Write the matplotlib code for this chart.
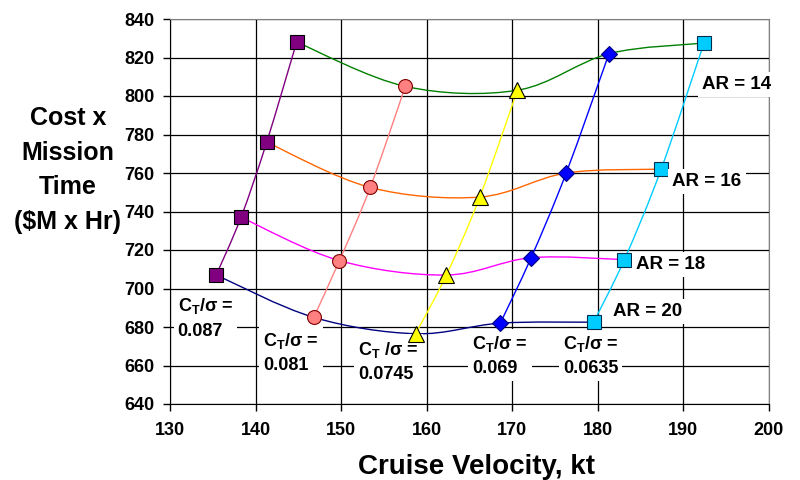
import numpy as np
import matplotlib
matplotlib.use("Agg")
from matplotlib import pyplot as plt
from matplotlib.path import Path
from matplotlib.patches import PathPatch

plt.rcParams['font.family'] = ['Liberation Sans', 'DejaVu Sans']
plt.rcParams['font.weight'] = 'bold'
plt.rcParams['mathtext.fontset'] = 'custom'
plt.rcParams['mathtext.rm'] = 'Liberation Sans:bold'
plt.rcParams['mathtext.bf'] = 'Liberation Sans:bold'

# one series per thrust coefficient, points ordered AR = 20, 18, 16, 14
ct_labels = ["C$_\\mathrm{T}$/σ =\n0.087", "C$_\\mathrm{T}$/σ =\n0.081",
             "C$_\\mathrm{T}$ /σ =\n0.0745", "C$_\\mathrm{T}$/σ =\n0.069",
             "C$_\\mathrm{T}$/σ =\n0.0635"]
vel_087 = [135.4, 138.3, 141.3, 144.8]
cost_087 = [707, 737, 776, 828]
vel_081 = [146.8, 149.8, 153.4, 157.5]
cost_081 = [685, 714.5, 752.5, 805]
vel_0745 = [158.7, 162.3, 166.2, 170.6]
cost_0745 = [676.5, 707, 747.5, 803]
vel_069 = [168.6, 172.2, 176.3, 181.3]
cost_069 = [682, 716, 760, 822]
vel_0635 = [179.5, 183.1, 187.4, 192.4]
cost_0635 = [682.5, 715, 762, 827.5]

ar_labels = ["AR = 20", "AR = 18", "AR = 16", "AR = 14"]

velocities = [vel_087, vel_081, vel_0745, vel_069, vel_0635]
costs = [cost_087, cost_081, cost_0745, cost_069, cost_0635]

ct_colors = ["#800080", "#FF8080", "#FFFF00", "#0000FF", "#00CCFF"]
ct_edges = ["#000000", "#800000", "#000000", "#000080", "#003050"]
ct_markers = ["s", "o", "^", "D", "s"]
ct_sizes = [10, 10, 11, 8, 10]
ar_colors = ["#000080", "#FF00FF", "#FF6600", "#008000"]


def smooth_path(xs, ys):
    # excel style smoothed line: cubic bezier through every point
    p = np.column_stack([xs, ys]).astype(float)
    n = len(p)
    verts = [p[0]]
    codes = [Path.MOVETO]
    for i in range(n - 1):
        p0 = p[i - 1] if i > 0 else p[i]
        p3 = p[i + 2] if i + 2 < n else p[i + 1]
        c1 = p[i] + (p[i + 1] - p0) / 6.0
        c2 = p[i + 1] - (p3 - p[i]) / 6.0
        verts += [c1, c2, p[i + 1]]
        codes += [Path.CURVE4] * 3
    return Path(verts, codes)


fig = plt.figure(figsize=(8, 4.8), dpi=100)
ax = fig.add_axes([170 / 800, 1 - 404 / 480, 599 / 800, 385 / 480])

# constant aspect ratio curves across the thrust series
for j in range(4):
    xs = [v[j] for v in velocities]
    ys = [c[j] for c in costs]
    ax.add_patch(PathPatch(smooth_path(xs, ys), fill=False,
                           edgecolor=ar_colors[j], lw=1.0, zorder=3))

for k in range(5):
    ax.add_patch(PathPatch(smooth_path(velocities[k], costs[k]), fill=False,
                           edgecolor=ct_colors[k], lw=1.0, zorder=3))
    ax.plot(velocities[k], costs[k], linestyle="none", marker=ct_markers[k],
            markersize=ct_sizes[k], markerfacecolor=ct_colors[k],
            markeredgecolor=ct_edges[k], markeredgewidth=0.8, zorder=5)

ax.set_xlim(130, 200)
ax.set_ylim(640, 840)
ax.set_xticks(np.arange(130, 201, 10))
ax.set_yticks(np.arange(640, 841, 20))
ax.grid(True, color="black", lw=0.9)
ax.set_axisbelow(True)
ax.tick_params(direction="out", length=5, width=1, labelsize=13)
ax.tick_params(axis="x", pad=8)
ax.tick_params(axis="y", pad=6)
for lab in ax.get_xticklabels() + ax.get_yticklabels():
    lab.set_fontweight("bold")
ax.spines["top"].set_color("#808080")
ax.spines["right"].set_color("#808080")

box = dict(facecolor="white", edgecolor="none", pad=3)
ct_pos = [(130.9, 696), (140.9, 678), (152.0, 673.5), (165.3, 676.5), (175.9, 676.5)]
for (x, y), txt in zip(ct_pos, ct_labels):
    ax.text(x, y, txt, fontsize=13, fontweight="bold", va="top", ha="left",
            linespacing=1.5, bbox=box, zorder=4)

ar_pos = [(181.8, 692.5), (184.5, 717), (188.7, 760), (192.2, 810.5)]
for (x, y), txt in zip(ar_pos, ar_labels):
    ax.text(x, y, txt, fontsize=13.5, fontweight="bold", va="top", ha="left",
            bbox=box, zorder=6, clip_on=False)

fig.text(477 / 800, 6 / 480, "Cruise Velocity, kt", fontsize=20,
         fontweight="bold", ha="center", va="baseline")
fig.text(68 / 800, 1 - 170 / 480, "Cost x\nMission\nTime\n($M x Hr)",
         fontsize=18, fontweight="bold", ha="center", va="center",
         linespacing=1.55)

fig.savefig("out.png", dpi=100)
